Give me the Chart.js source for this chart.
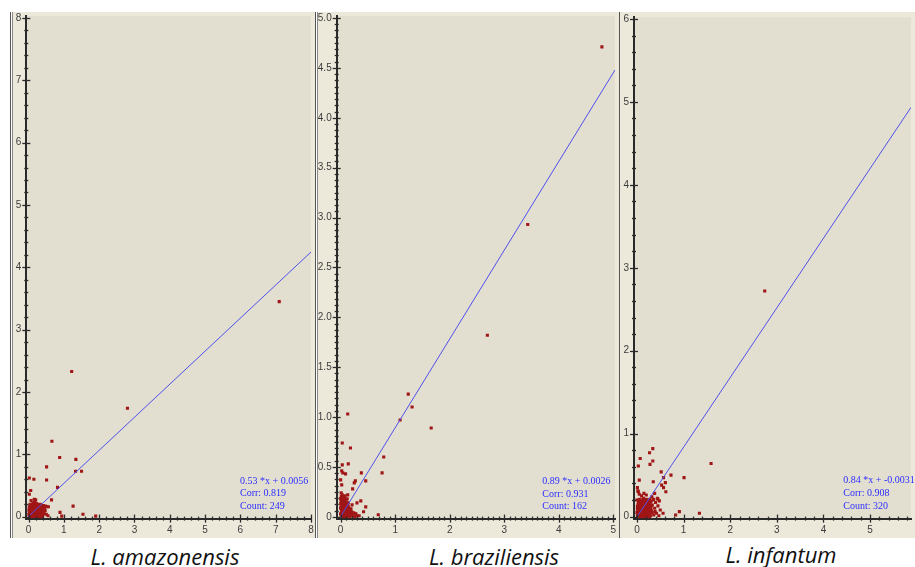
<!DOCTYPE html>
<html><head><meta charset="utf-8">
<script src="https://cdn.jsdelivr.net/npm/chart.js@4.4.1/dist/chart.umd.min.js"></script>
<style>
html,body{margin:0;padding:0;background:#fff;width:915px;height:567px;overflow:hidden;position:relative}
canvas{position:absolute}
.ln{position:absolute;background:#555}
.lab{position:absolute;font-family:"Open Sans",sans-serif;font-style:italic;font-size:22px;color:#111;white-space:nowrap;transform:translateX(-50%)}
</style></head><body>
<div class="ln" style="left:10px;top:12px;width:1px;height:526px"></div>
<div class="ln" style="left:12px;top:12px;width:1px;height:526px;background:#888"></div>
<div class="ln" style="left:315px;top:12px;width:1px;height:526px"></div>
<div class="ln" style="left:317px;top:12px;width:1px;height:526px;background:#888"></div>
<div class="ln" style="left:619px;top:12px;width:1px;height:526px"></div>
<canvas id="c1" width="302" height="526" style="left:13px;top:12px"></canvas>
<canvas id="c2" width="301" height="526" style="left:318px;top:12px"></canvas>
<canvas id="c3" width="295" height="526" style="left:620px;top:12px"></canvas>
<div class="lab" style="left:165px;top:541px">L. amazonensis</div>
<div class="lab" style="left:494px;top:541px">L. braziliensis</div>
<div class="lab" style="left:781px;top:539px">L. infantum</div>
<script>
// ---------- data ----------
const speciesNames = ["L. amazonensis", "L. braziliensis", "L. infantum"];

const pointsAmazonensis = [
 [7.1,3.45],[1.22,2.33],[2.8,1.74],[0.66,1.21],[0.88,0.95],[1.34,0.92],[1.33,0.73],[1.5,0.73],
 [0.51,0.8],[0.51,0.59],[0.82,0.47],[0.65,0.27],[0.02,0.62],[0.15,0.6],[0.06,0.42],[0.02,0.36],
 [1.26,0.17],[1.54,0.04],[1.9,0.01],[0.89,0.07],[0.94,0.01],[0.55,0.015],[0.07,0.26],[0.16,0.28],[0.56,0.16],
 [0.02,0.01],[0.04,0.03],[0.06,0.02],[0.08,0.05],[0.1,0.01],[0.12,0.04],[0.14,0.07],[0.16,0.02],
 [0.18,0.06],[0.2,0.03],[0.22,0.08],[0.24,0.01],[0.26,0.05],[0.28,0.1],[0.3,0.03],[0.32,0.07],
 [0.34,0.12],[0.36,0.04],[0.38,0.09],[0.4,0.02],[0.03,0.08],[0.05,0.12],[0.07,0.15],[0.09,0.1],
 [0.11,0.18],[0.13,0.13],[0.15,0.16],[0.17,0.11],[0.19,0.2],[0.21,0.14],[0.23,0.17],[0.25,0.12],
 [0.27,0.19],[0.29,0.15],[0.31,0.18],[0.33,0.2],[0.35,0.16],[0.37,0.14],[0.42,0.18],[0.45,0.15],
 [0.48,0.17],[0.52,0.16],[0.02,0.16],[0.04,0.2],[0.06,0.06],[0.1,0.07],[0.14,0.22],[0.18,0.24],
 [0.2,0.27],[0.16,0.09],[0.12,0.02],[0.08,0.13],[0.22,0.0],[0.26,0.09],[0.3,0.12],[0.34,0.06],
 [0.38,0.0],[0.44,0.05],[0.47,0.1],[0.5,0.04],[0.01,0.04],[0.05,0.0],[0.09,0.19],[0.13,0.08],
 [0.17,0.14],[0.21,0.05],[0.25,0.2],[0.29,0.0],[0.33,0.1],[0.4,0.13],[0.06,0.1],[0.11,0.14],
 [0.03,0.05],[0.05,0.07],[0.07,0.04],[0.09,0.08],[0.11,0.06],[0.13,0.1],[0.15,0.05],[0.17,0.08],
 [0.19,0.04],[0.21,0.1],[0.23,0.06],[0.25,0.03],[0.27,0.08],[0.29,0.05],[0.31,0.1],[0.33,0.04],
 [0.35,0.08],[0.37,0.11],[0.39,0.06],[0.41,0.09],[0.43,0.12],[0.03,0.12],[0.05,0.17],[0.07,0.11],
 [0.09,0.14],[0.11,0.1],[0.13,0.17],[0.15,0.12],[0.17,0.18],[0.19,0.13],[0.21,0.17],[0.23,0.12],
 [0.25,0.16],[0.27,0.13],[0.29,0.18],[0.31,0.14],[0.33,0.16],[0.12,0.21],[0.16,0.23],[0.22,0.21],
 [0.08,0.02],[0.14,0.0],[0.18,0.01],[0.26,0.01],[0.32,0.02],[0.36,0.0],[0.01,0.11],[0.02,0.07],
 [0.04,0.14],[0.06,0.18]
];
const pointsBraziliensis = [
 [4.79,4.71],[3.43,2.93],[2.69,1.82],[1.24,1.23],[1.31,1.1],[1.09,0.97],[1.66,0.89],[0.13,1.03],
 [0.03,0.74],[0.18,0.69],[0.79,0.6],[0.76,0.44],[0.38,0.44],[0.03,0.52],[0.14,0.53],[0.02,0.46],
 [0.04,0.44],[0.09,0.43],[0.0,0.37],[0.02,0.32],[0.27,0.36],[0.25,0.34],[0.46,0.36],[0.22,0.28],
 [0.13,0.22],[0.3,0.14],[0.37,0.16],[0.21,0.12],[0.46,0.1],[0.42,0.05],[0.34,0.01],[0.69,0.02],[0.26,0.03],
 [0.01,0.01],[0.02,0.04],[0.03,0.02],[0.04,0.07],[0.05,0.01],[0.06,0.05],[0.07,0.09],[0.08,0.02],
 [0.09,0.06],[0.1,0.03],[0.11,0.08],[0.12,0.01],[0.13,0.05],[0.14,0.1],[0.15,0.03],[0.16,0.07],
 [0.18,0.02],[0.2,0.05],[0.22,0.01],[0.24,0.04],[0.01,0.08],[0.02,0.12],[0.03,0.16],[0.04,0.11],
 [0.05,0.14],[0.06,0.18],[0.07,0.13],[0.08,0.16],[0.09,0.12],[0.1,0.15],[0.12,0.13],[0.02,0.2],
 [0.01,0.24],[0.03,0.22],[0.0,0.18],[0.05,0.09],[0.07,0.03],[0.11,0.0],[0.13,0.11],[0.15,0.09],
 [0.17,0.0],[0.19,0.08],[0.26,0.0],[0.28,0.03],[0.3,0.01],[0.04,0.0],[0.06,0.1],[0.09,0.0],
 [0.02,0.06],[0.14,0.14],[0.0,0.13],[0.01,0.15],[0.12,0.18],[0.08,0.21],
 [0.01,0.03],[0.02,0.09],[0.03,0.06],[0.04,0.04],[0.05,0.06],[0.06,0.02],[0.07,0.06],[0.08,0.09],
 [0.09,0.04],[0.1,0.07],[0.11,0.04],[0.12,0.07],[0.13,0.02],[0.14,0.06],[0.15,0.07],[0.16,0.04],
 [0.17,0.05],[0.19,0.03],[0.21,0.04],[0.03,0.13],[0.04,0.15],[0.05,0.11],[0.06,0.13],[0.07,0.16],
 [0.08,0.12],[0.09,0.09],[0.1,0.11],[0.11,0.13],[0.02,0.17],[0.04,0.19],[0.01,0.2],[0.03,0.18],
 [0.05,0.2],[0.07,0.19],[0.0,0.09],[0.0,0.03],[0.06,0.07],[0.08,0.05],[0.1,0.0],[0.12,0.04],
 [0.14,0.02],[0.16,0.01],[0.18,0.05],[0.03,0.08]
];
const pointsInfantum = [
 [2.74,2.72],[1.59,0.64],[1.01,0.47],[1.34,0.04],[0.91,0.06],[0.83,0.02],[0.34,0.82],[0.27,0.77],
 [0.34,0.67],[0.28,0.63],[0.07,0.7],[0.03,0.61],[0.05,0.44],[0.52,0.54],[0.73,0.5],[0.57,0.47],
 [0.61,0.41],[0.53,0.38],[0.57,0.35],[0.62,0.3],[0.35,0.42],[0.38,0.28],[0.45,0.21],[0.36,0.21],
 [0.01,0.35],[0.02,0.31],[0.27,0.06],[0.39,0.06],[0.47,0.01],[0.56,0.04],
 [0.01,0.01],[0.03,0.05],[0.05,0.02],[0.07,0.09],[0.09,0.03],[0.11,0.07],[0.13,0.12],[0.15,0.04],
 [0.17,0.1],[0.19,0.02],[0.21,0.08],[0.23,0.14],[0.25,0.05],[0.27,0.11],[0.29,0.01],[0.31,0.07],
 [0.02,0.14],[0.04,0.18],[0.06,0.21],[0.08,0.16],[0.1,0.2],[0.12,0.17],[0.14,0.22],[0.16,0.19],
 [0.18,0.15],[0.2,0.21],[0.22,0.18],[0.24,0.2],[0.26,0.16],[0.28,0.21],[0.03,0.11],[0.05,0.08],
 [0.07,0.13],[0.09,0.15],[0.11,0.11],[0.13,0.06],[0.15,0.14],[0.17,0.05],[0.19,0.12],[0.21,0.03],
 [0.23,0.09],[0.25,0.13],[0.27,0.06],[0.02,0.03],[0.04,0.06],[0.06,0.0],[0.08,0.04],[0.1,0.08],
 [0.12,0.0],[0.14,0.03],[0.16,0.08],[0.18,0.0],[0.2,0.06],[0.22,0.12],[0.24,0.0],[0.26,0.02],
 [0.33,0.14],[0.35,0.2],[0.38,0.1],[0.4,0.17],[0.42,0.04],[0.45,0.13],[0.48,0.19],[0.5,0.08],
 [0.36,0.02],[0.3,0.18],[0.32,0.24],[0.2,0.26],[0.15,0.28],[0.1,0.25],[0.05,0.27],[0.0,0.2],
 [0.01,0.09],[0.0,0.05],[0.03,0.3],[0.44,0.22],
 [0.02,0.07],[0.04,0.1],[0.06,0.04],[0.08,0.11],[0.1,0.05],[0.12,0.09],[0.14,0.07],[0.16,0.12],
 [0.18,0.06],[0.2,0.1],[0.22,0.05],[0.24,0.08],[0.26,0.1],[0.28,0.04],[0.3,0.09],[0.03,0.17],
 [0.05,0.15],[0.07,0.19],[0.09,0.18],[0.11,0.16],[0.13,0.19],[0.15,0.17],[0.17,0.2],[0.19,0.18],
 [0.21,0.15],[0.23,0.17],[0.25,0.19],[0.27,0.17],[0.29,0.14],[0.01,0.12],[0.03,0.2],[0.05,0.04],
 [0.07,0.06],[0.09,0.09],[0.11,0.02],[0.13,0.04],[0.15,0.09],[0.17,0.02],[0.19,0.07],[0.21,0.13],
 [0.23,0.02],[0.25,0.1],[0.27,0.0],[0.29,0.11],[0.31,0.13],[0.33,0.05],[0.04,0.02],[0.06,0.16],
 [0.08,0.08],[0.1,0.13],[0.12,0.05],[0.14,0.11],[0.16,0.14],[0.18,0.1],[0.2,0.0],[0.22,0.2]
];

const fitSlopes = [0.53, 0.89, 0.84];
const fitIntercepts = [0.0056, 0.0026, -0.0031];
const fitTexts = [
 ["0.53 *x + 0.0056", "Corr: 0.819", "Count: 249"],
 ["0.89 *x + 0.0026", "Corr: 0.931", "Count: 162"],
 ["0.84 *x + -0.0031", "Corr: 0.908", "Count: 320"]
];

const xTicks1 = [0,1,2,3,4,5,6,7,8];
const yTicks1 = [0,1,2,3,4,5,6,7,8];
const xTicks2 = [0,1,2,3,4,5];
const yTicks2 = [0,0.5,1.0,1.5,2.0,2.5,3.0,3.5,4.0,4.5,5.0];
const yLabels2 = ["0","0.5","1.0","1.5","2.0","2.5","3.0","3.5","4.0","4.5","5.0"];
const xTicks3 = [0,1,2,3,4,5];
const yTicks3 = [0,1,2,3,4,5,6];

// ---------- plugins ----------
const panelPlugin = {
  id: 'panelBg',
  beforeDraw(chart) {
    const {ctx, chartArea: a, width, height} = chart;
    ctx.save();
    ctx.fillStyle = '#ECE9DB';
    ctx.fillRect(0, 0, width, height);
    ctx.fillStyle = '#E2DFD0';
    ctx.fillRect(a.left, a.top, a.right - a.left, a.bottom - a.top);
    ctx.restore();
  },
  afterDraw(chart) {
    const o = chart.options.plugins.panelBg;
    const {ctx, chartArea: a} = chart;
    const xs = chart.scales.x, ys = chart.scales.y;
    ctx.save();
    ctx.strokeStyle = '#2a2a2a';
    ctx.lineWidth = 1.3;
    const eps = 1e-6;
    const isMajor = (v, list) => list.some(m => Math.abs(m - v) < eps);
    for (let v = Math.ceil(ys.min / o.yMinor - eps) * o.yMinor; v <= ys.max + eps; v += o.yMinor) {
      const py = Math.round(ys.getPixelForValue(v)) + 0.5;
      const L = isMajor(v, o.yMajor) ? 4 : 2;
      ctx.beginPath(); ctx.moveTo(a.left - L, py); ctx.lineTo(a.left + L, py); ctx.stroke();
    }
    for (let v = Math.ceil(xs.min / o.xMinor - eps) * o.xMinor; v <= xs.max + eps; v += o.xMinor) {
      const px = Math.round(xs.getPixelForValue(v)) + 0.5;
      const L = isMajor(v, o.xMajor) ? 4 : 2;
      ctx.beginPath(); ctx.moveTo(px, a.bottom - L); ctx.lineTo(px, a.bottom + L); ctx.stroke();
    }
    ctx.fillStyle = 'rgb(45,45,255)';
    ctx.font = '10px "Liberation Serif", serif';
    ctx.textBaseline = 'middle';
    o.text.forEach((t, i) => {
      ctx.fillText(t, a.right - o.textRight, a.bottom - o.textBottom + i * 12.8);
    });
    ctx.restore();
  }
};

function makeChart(id, pts, slope, icpt, texts, xr, yr, xMajor, yMajor, yLabels, xMinor, yMinor, yAxisW, padTop, padRight, textRight, textBottom) {
  const line = [{x: 0, y: icpt}, {x: xr[1], y: slope * xr[1] + icpt}];
  const tickFont = {family: '"Liberation Sans", sans-serif', size: 10};
  new Chart(document.getElementById(id), {
    type: 'scatter',
    data: {
      datasets: [
        {type: 'line', data: line, borderColor: 'rgb(80,80,235)', borderWidth: 1, pointRadius: 0, order: 0},
        {data: pts.map(p => ({x: p[0], y: p[1]})), pointStyle: 'rect', pointRadius: 2.2,
         backgroundColor: 'rgb(160,22,22)', borderWidth: 0, order: 1}
      ]
    },
    options: {
      responsive: false, animation: false, devicePixelRatio: 1,
      layout: {padding: {top: padTop, right: padRight, left: 0, bottom: 0}},
      plugins: {legend: {display: false}, tooltip: {enabled: false},
        panelBg: {xMajor, yMajor, xMinor, yMinor, text: texts, textRight, textBottom}},
      scales: {
        x: {type: 'linear', min: xr[0], max: xr[1],
          grid: {display: false, drawTicks: false},
          border: {display: true, color: '#2a2a2a', width: 2},
          afterBuildTicks: s => { s.ticks = xMajor.map(v => ({value: v})); },
          afterFit: s => { s.height = 19.4; s.paddingLeft = 0; s.paddingRight = 0; s.paddingTop = 0; s.paddingBottom = 0; },
          ticks: {padding: 6, color: '#3c3c3c', font: tickFont,
            maxRotation: 0, autoSkip: false, callback: v => String(v)}},
        y: {type: 'linear', min: yr[0], max: yr[1],
          grid: {display: false, drawTicks: false},
          border: {display: true, color: '#2a2a2a', width: 2},
          afterBuildTicks: s => { s.ticks = yMajor.map(v => ({value: v})); },
          afterFit: s => { s.width = yAxisW; s.paddingLeft = 0; s.paddingRight = 0; s.paddingTop = 0; s.paddingBottom = 0; },
          ticks: {padding: 5, color: '#3c3c3c', font: tickFont,
            autoSkip: false,
            callback: (v, i) => yLabels ? yLabels[i] : String(v)}}
      }
    },
    plugins: [panelPlugin]
  });
}

makeChart('c1', pointsAmazonensis, fitSlopes[0], fitIntercepts[0], fitTexts[0],
  [-0.065, 8.0], [-0.03, 8.03], xTicks1, yTicks1, null, 0.2, 0.2, 13.3, 2.1, 2, 71, 37.6);
makeChart('c2', pointsBraziliensis, fitSlopes[1], fitIntercepts[1], fitTexts[1],
  [-0.072, 5.03], [-0.018, 5.02], xTicks2, yTicks2, yLabels2, 0.1, 0.0625, 18.7, 2, 0, 72.7, 37.5);
makeChart('c3', pointsInfantum, fitSlopes[2], fitIntercepts[2], fitTexts[2],
  [-0.063, 5.877], [-0.024, 6.02], xTicks3, yTicks3, null, 0.2, 0.2, 14, 5.3, 0, 67.7, 38);
</script>
</body></html>
